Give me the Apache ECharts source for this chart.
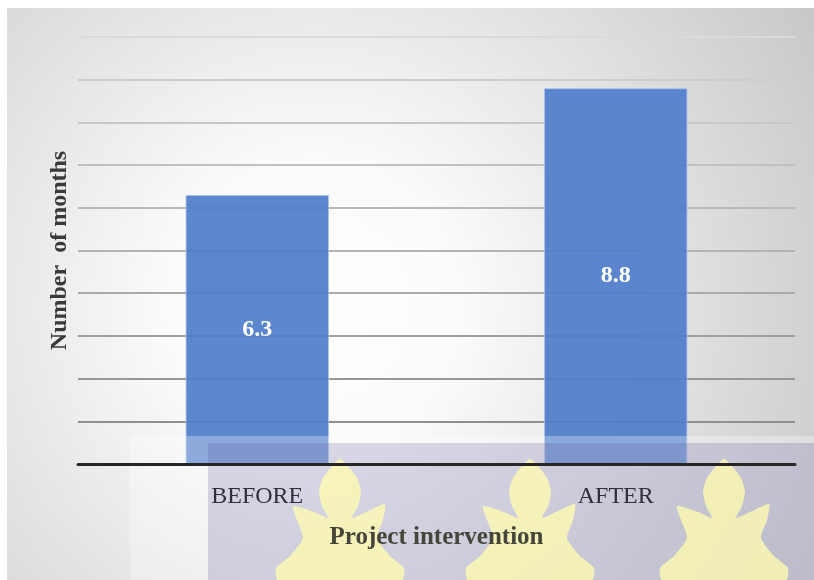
<!DOCTYPE html>
<html>
<head>
<meta charset="utf-8">
<script src="https://cdn.jsdelivr.net/npm/echarts@6/dist/echarts.min.js"></script>
<style>
html,body{margin:0;padding:0;background:#fff;}
#chart{width:814px;height:580px;}
</style>
</head>
<body>
<div id="chart"></div>
<script>
var categories = ['BEFORE', 'AFTER'];
var months = [6.3, 8.8];
var yTitle = 'Number  of months';
var xTitle = 'Project intervention';

var gridColors = ['#333333', '#8f8f8f', '#979797', '#a0a0a0', '#aaaaaa', '#b3b3b3', '#b9b9b9', '#c0c0c0', '#c7c7c7', '#cdcdcd', '#dadada'];

function flame(cx) {
  var pts = [
    [cx, 459], [cx + 8, 466], [cx + 17, 478], [cx + 21, 492], [cx + 18, 506], [cx + 12, 518],
    [cx + 26, 512], [cx + 45, 504], [cx + 43, 520], [cx + 37, 538],
    [cx + 50, 556], [cx + 64, 568], [cx + 62, 580],
    [cx - 62, 580], [cx - 64, 568], [cx - 50, 556],
    [cx - 37, 538], [cx - 43, 520], [cx - 47, 506], [cx - 26, 512], [cx - 12, 518],
    [cx - 18, 506], [cx - 21, 492], [cx - 17, 478], [cx - 8, 466]
  ];
  return {
    type: 'polygon', z: 52, silent: true,
    shape: { points: pts, smooth: 0.2 },
    style: { fill: 'rgba(255,252,175,0.78)' }
  };
}

var chart = echarts.init(document.getElementById('chart'), null, { renderer: 'canvas' });
chart.setOption({
  backgroundColor: '#ffffff',
  animation: false,
  graphic: [
    {
      type: 'rect', z: -10, silent: true,
      shape: { x: 7, y: 8, width: 807, height: 572 },
      style: {
        fill: {
          type: 'radial', x: 0.38, y: 0.52, r: 1.0,
          colorStops: [
            { offset: 0, color: '#ffffff' },
            { offset: 0.25, color: '#fbfbfb' },
            { offset: 1, color: '#c9c9c9' }
          ]
        }
      }
    },
    {
      type: 'rect', z: 50, silent: true,
      shape: { x: 130, y: 436, width: 684, height: 144 },
      style: { fill: 'rgba(255,255,255,0.3)' }
    },
    {
      type: 'rect', z: 51, silent: true,
      shape: { x: 208, y: 443, width: 606, height: 137 },
      style: { fill: 'rgba(80,80,150,0.22)' }
    },
    flame(340),
    flame(530),
    flame(724)
  ],
  grid: { left: 78, right: 19, top: 37, bottom: 116 },
  xAxis: {
    type: 'category',
    data: categories,
    z: 60,
    axisLine: { show: true, lineStyle: { color: '#262626', width: 3 } },
    axisTick: { show: false },
    axisLabel: { margin: 21, fontFamily: 'Liberation Serif', fontSize: 24, color: '#30303c' },
    name: xTitle,
    nameLocation: 'middle',
    nameGap: 61,
    nameTextStyle: { fontFamily: 'Liberation Serif', fontSize: 25, fontWeight: 'bold', color: '#45453a' }
  },
  yAxis: {
    type: 'value',
    min: 0, max: 10, interval: 1,
    axisLine: { show: false },
    axisTick: { show: false },
    axisLabel: { show: false },
    splitLine: { show: true, lineStyle: { color: gridColors, width: 2 } },
    name: yTitle,
    nameLocation: 'middle',
    nameGap: 6,
    nameTextStyle: { fontFamily: 'Liberation Serif', fontSize: 24, fontWeight: 'bold', color: '#3a3a3a' }
  },
  series: [{
    type: 'bar',
    data: months,
    barWidth: '40%',
    itemStyle: { color: 'rgba(80,125,202,0.93)', borderColor: 'rgba(170,195,240,0.8)', borderWidth: 1 },
    label: {
      show: true, position: 'inside',
      fontFamily: 'Liberation Serif', fontSize: 24, fontWeight: 'bold', color: '#ffffff'
    }
  }]
});
</script>
</body>
</html>
